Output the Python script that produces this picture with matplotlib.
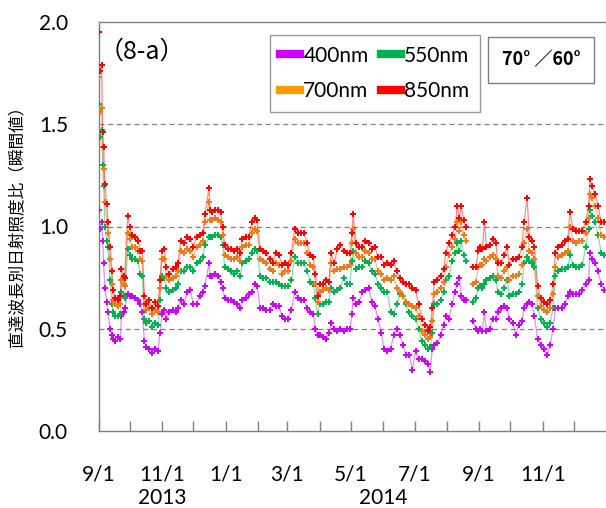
import numpy as np
import pandas as pd
import matplotlib
matplotlib.use('Agg')
import matplotlib.pyplot as plt
import matplotlib.dates as mdates
from matplotlib.lines import Line2D
from matplotlib.ticker import FuncFormatter

start = pd.Timestamp('2013-09-01')
day_offsets = [
    0, 1, 3, 4, 5, 6, 8, 9, 11, 13,
    14, 16, 19, 21, 22, 24, 25, 28, 30, 32,
    35, 38, 40, 42, 44, 46, 48, 51, 54, 57,
    59, 61, 63, 65, 68, 71, 74, 76, 79, 82,
    85, 88, 91, 94, 97, 100, 102, 106, 107, 109,
    112, 115, 117, 119, 121, 124, 127, 130, 133, 136,
    138, 141, 144, 147, 150, 152, 155, 158, 161, 164,
    167, 170, 173, 176, 179, 182, 185, 188, 191, 194,
    197, 200, 203, 206, 208, 210, 212, 215, 218, 221,
    223, 226, 229, 232, 235, 238, 241, 243, 244, 247,
    250, 253, 256, 259, 262, 265, 268, 271, 274, 277,
    280, 283, 286, 289, 292, 295, 298, 301, 304, 307,
    310, 313, 316, 318, 320, 322, 325, 328, 331, 333,
    336, 339, 342, 344, 346, 348, 350, 352, 355, 359,
    362, 364, 366, 368, 370, 372, 375, 378, 381, 383,
    386, 389, 392, 394, 397, 400, 403, 406, 408, 411,
    413, 416, 418, 421, 424, 427, 430, 433, 436, 438,
    441, 444, 447, 450, 452, 455, 458, 461, 464, 467,
    470, 471, 473, 476, 479, 482, 485,
]
nan = np.nan
nm850 = [
    1.95, 1.76, 1.79, 1.46, 1.39, 1.21, 1.11, 1.02, 0.90, 0.78,
    0.69, 0.65, 0.64, 0.66, 0.79, 0.76, 0.75, 1.05, 1.00, 0.96,
    0.95, 0.93, 0.88, 0.88, 0.66, 0.62, 0.64, 0.60, 0.63, 0.61,
    0.74, 0.88, 0.89, 0.80, 0.77, 0.79, 0.80, 0.82, 0.93, 0.92,
    0.95, 0.94, 0.90, 0.95, 0.96, 0.97, 1.06, 1.19, 1.08, 1.07,
    1.08, 1.08, 1.07, 1.00, 0.91, 0.89, 0.89, 0.88, 0.89, 0.87,
    0.94, 0.95, 0.95, 1.02, 1.04, 1.03, 0.89, 0.88, 0.87, 0.84,
    0.82, 0.87, 0.86, 0.81, 0.82, 0.81, 0.87, 0.99, 0.97, 0.97,
    0.97, 0.92, 0.86, 0.85, 0.77, 0.66, 0.72, 0.72, 0.74, 0.73,
    0.87, 0.82, 0.89, 0.91, 0.88, 0.87, 0.87, 0.97, 1.06, 0.92,
    0.90, 0.90, 0.93, 0.92, 0.89, 0.90, 0.85, 0.85, 0.81, 0.82,
    0.81, 0.83, 0.78, 0.75, 0.73, 0.72, 0.72, 0.70, 0.69, 0.62,
    0.55, 0.52, 0.49, 0.51, 0.60, 0.73, 0.74, 0.76, 0.79, 0.87,
    0.92, 0.96, 1.00, 1.10, 1.04, 1.10, 1.03, 1.00, nan, 0.80,
    0.80, 0.88, 0.90, 0.89, 1.02, 0.90, 0.91, 0.94, 0.92, 0.82,
    0.82, 0.86, 0.90, 0.81, 0.84, 0.84, 0.85, 0.90, 1.02, 1.14,
    0.95, 0.93, 0.90, 0.71, 0.65, 0.63, 0.62, 0.64, 0.72, 0.87,
    0.90, 0.91, 0.93, 0.94, 1.07, 0.99, 0.98, 0.98, 0.98, 1.02,
    1.10, 1.23, 1.20, 1.16, 1.10, 1.02, 1.02,
]
nm700 = [
    1.73, 1.56, 1.58, 1.39, 1.28, 1.12, 1.02, 0.97, 0.84, 0.72,
    0.64, 0.62, 0.61, 0.62, 0.74, 0.72, 0.71, 0.97, 0.94, 0.90,
    0.90, 0.88, 0.84, 0.83, 0.62, 0.59, 0.60, 0.57, 0.59, 0.58,
    0.70, 0.84, 0.84, 0.76, 0.74, 0.75, 0.76, 0.78, 0.88, 0.87,
    0.89, 0.88, 0.85, 0.90, 0.91, 0.93, 1.02, 1.12, 1.03, 1.03,
    1.04, 1.03, 1.02, 0.96, 0.86, 0.85, 0.84, 0.84, 0.85, 0.83,
    0.90, 0.91, 0.91, 0.97, 0.99, 0.98, 0.84, 0.83, 0.82, 0.79,
    0.78, 0.82, 0.81, 0.77, 0.78, 0.78, 0.83, 0.94, 0.92, 0.92,
    0.92, 0.87, 0.81, 0.80, 0.72, 0.63, 0.68, 0.69, 0.70, 0.69,
    0.82, 0.78, 0.79, 0.79, 0.80, 0.80, 0.81, 0.92, 0.99, 0.87,
    0.85, 0.85, 0.88, 0.87, 0.84, 0.84, 0.78, 0.77, 0.74, 0.75,
    0.74, 0.76, 0.70, 0.68, 0.66, 0.63, 0.62, 0.61, 0.60, 0.56,
    0.49, 0.47, 0.45, 0.46, 0.54, 0.67, 0.68, 0.70, 0.73, 0.80,
    0.86, 0.90, 0.94, 1.02, 0.98, 1.02, 0.96, 0.93, nan, 0.72,
    0.73, 0.80, 0.81, 0.81, 0.84, 0.83, 0.85, 0.86, 0.84, 0.76,
    0.75, 0.78, 0.80, 0.74, 0.76, 0.76, 0.77, 0.81, 0.92, 0.99,
    0.88, 0.87, 0.84, 0.66, 0.61, 0.59, 0.58, 0.60, 0.67, 0.80,
    0.85, 0.86, 0.87, 0.88, 1.00, 0.93, 0.92, 0.93, 0.93, 0.97,
    1.04, 1.16, 1.14, 1.10, 1.04, 0.96, 0.95,
]
nm550 = [
    1.60, 1.44, 1.47, 1.30, 1.20, 1.00, 0.93, 0.90, 0.74, 0.62,
    0.58, 0.56, 0.56, 0.57, 0.68, 0.66, 0.65, 0.89, 0.86, 0.84,
    0.84, 0.83, 0.77, 0.76, 0.55, 0.53, 0.54, 0.51, 0.53, 0.52,
    0.64, 0.76, 0.75, 0.70, 0.68, 0.69, 0.70, 0.72, 0.78, 0.78,
    0.80, 0.80, 0.78, 0.82, 0.83, 0.85, 0.91, 0.95, 0.95, 0.95,
    0.96, 0.96, 0.95, 0.91, 0.80, 0.79, 0.78, 0.77, 0.78, 0.76,
    0.82, 0.83, 0.84, 0.87, 0.89, 0.88, 0.76, 0.75, 0.75, 0.73,
    0.73, 0.73, 0.72, 0.71, 0.71, 0.71, 0.74, 0.85, 0.82, 0.82,
    0.82, 0.78, 0.73, 0.72, 0.65, 0.57, 0.62, 0.62, 0.63, 0.63,
    0.70, 0.68, 0.69, 0.70, 0.75, 0.72, 0.72, 0.83, 0.88, 0.79,
    0.80, 0.80, 0.83, 0.82, 0.78, 0.77, 0.72, 0.70, 0.68, 0.68,
    0.58, 0.57, 0.62, 0.67, 0.66, 0.62, 0.58, 0.56, 0.55, 0.50,
    0.44, 0.42, 0.40, 0.41, 0.48, 0.62, 0.62, 0.64, 0.68, 0.74,
    0.76, 0.83, 0.87, 0.92, 0.88, 0.93, 0.86, 0.83, nan, 0.63,
    0.65, 0.70, 0.71, 0.70, 0.72, 0.74, 0.75, 0.76, 0.74, 0.68,
    0.67, 0.70, 0.74, 0.66, 0.67, 0.67, 0.68, 0.72, 0.82, 0.85,
    0.83, 0.82, 0.80, 0.60, 0.55, 0.53, 0.51, 0.53, 0.60, 0.76,
    0.78, 0.79, 0.79, 0.80, 0.86, 0.81, 0.80, 0.80, 0.81, 0.90,
    0.99, 1.08, 1.05, 1.02, 0.96, 0.87, 0.86,
]
nm400 = [
    1.08, 0.99, 1.02, 0.93, 0.82, 0.70, 0.63, 0.58, 0.50, 0.47,
    0.45, 0.44, 0.46, 0.45, 0.56, 0.58, 0.60, 0.67, 0.66, 0.66,
    0.65, 0.64, 0.62, 0.58, 0.44, 0.41, 0.40, 0.38, 0.40, 0.39,
    0.48, 0.57, 0.59, 0.55, 0.58, 0.59, 0.58, 0.60, 0.64, 0.62,
    0.68, 0.69, 0.62, 0.62, 0.66, 0.68, 0.71, 0.82, 0.76, 0.76,
    0.77, 0.76, 0.73, 0.70, 0.65, 0.64, 0.64, 0.63, 0.62, 0.60,
    0.64, 0.65, 0.67, 0.68, 0.72, 0.71, 0.60, 0.60, 0.59, 0.59,
    0.62, 0.61, 0.61, 0.56, 0.55, 0.55, 0.59, 0.68, 0.65, 0.64,
    0.64, 0.60, 0.58, 0.57, 0.50, 0.47, 0.47, 0.46, 0.45, 0.48,
    0.53, 0.50, 0.49, 0.50, 0.49, 0.50, 0.50, 0.57, 0.65, 0.62,
    0.63, 0.68, 0.69, 0.70, 0.63, 0.61, 0.55, 0.48, 0.40, 0.39,
    0.40, 0.47, 0.50, 0.47, 0.42, 0.37, 0.37, 0.30, 0.39, 0.35,
    0.35, 0.34, 0.33, 0.29, 0.40, 0.42, 0.43, 0.47, 0.52, 0.56,
    0.55, 0.62, 0.68, 0.72, 0.75, 0.66, 0.64, 0.64, nan, 0.54,
    0.50, 0.49, 0.50, 0.49, 0.58, 0.49, 0.50, 0.55, 0.55, 0.58,
    0.60, 0.61, 0.60, 0.55, 0.53, 0.47, 0.52, 0.54, 0.60, 0.62,
    0.63, 0.62, 0.56, 0.45, 0.42, 0.40, 0.37, 0.42, 0.50, 0.60,
    0.60, 0.60, 0.62, 0.66, 0.68, 0.67, 0.67, 0.67, 0.69, 0.72,
    0.74, 0.87, 0.84, 0.82, 0.78, 0.72, 0.69,
]
series_labels = ['400nm', '550nm', '700nm', '850nm']
y_label = '直達波長別日射照度比（瞬間値）'
panel_label = '（8-a）'
angle_label = '70° ／60°'

num_font = 'Lato'
cjk = ['Noto Sans CJK JP', 'DejaVu Sans']

dates = start + pd.to_timedelta(day_offsets, unit='D')
series = [nm400, nm550, nm700, nm850]
line_colors = ['#CC00FF', '#00B050', '#EE7A1A', '#FF0000']
legend_colors = ['#CC00FF', '#00B050', '#FF9900', '#FF0000']

fig = plt.figure(figsize=(6.06, 5.08), dpi=100)
ax = fig.add_axes([98.5 / 606, 1 - 431 / 508, 1 - 98.5 / 606, (431 - 22) / 508])

for vals, c in zip(series, line_colors):
    ax.plot(dates, vals, color=c, lw=0.9, alpha=0.45, zorder=2)
    ax.plot(dates, vals, linestyle='none', marker='P', markersize=3.8,
            color=c, markeredgewidth=0, zorder=3)

ax.set_ylim(0, 2.0)
ax.set_xlim(start, start + pd.Timedelta(days=486.6))
ax.set_yticks([0, 0.5, 1.0, 1.5, 2.0])
ax.yaxis.set_major_formatter(FuncFormatter(lambda v, p: f'{v:.1f}'))
for yv in [0.5, 1.0, 1.5]:
    ax.axhline(yv, color='#808080', lw=0.9, ls=(0, (4, 3)), zorder=1)

ax.xaxis.set_major_locator(mdates.MonthLocator(bymonth=[1, 3, 5, 7, 9, 11]))
ax.xaxis.set_minor_locator(mdates.MonthLocator())
ax.xaxis.set_major_formatter(FuncFormatter(
    lambda v, p: f'{mdates.num2date(v).month}/{mdates.num2date(v).day}'))
ax.tick_params(axis='x', which='both', direction='in', length=7, width=1,
               color='#808080', pad=24)
ax.tick_params(axis='y', length=0, pad=22)
for lab in ax.get_xticklabels() + ax.get_yticklabels():
    lab.set_fontfamily(num_font)
    lab.set_fontsize(15)

for s in ['left', 'bottom', 'top']:
    ax.spines[s].set_color('#808080')
    ax.spines[s].set_linewidth(1)
ax.spines['right'].set_visible(False)

trans = ax.get_xaxis_transform()
ax.text(pd.Timestamp('2013-11-01'), -0.165, '2013', transform=trans,
        ha='center', va='center', fontsize=15, fontfamily=num_font)
ax.text(pd.Timestamp('2014-06-01'), -0.165, '2014', transform=trans,
        ha='center', va='center', fontsize=15, fontfamily=num_font)

fig.text(0.03, 1 - 222 / 508, y_label, rotation=90, ha='center', va='center',
         fontsize=12, fontfamily=cjk)

ax.text(0.0, 0.928, panel_label, transform=ax.transAxes, ha='left', va='center',
        fontsize=18, fontfamily=cjk)

order = [0, 2, 1, 3]
handles = [Line2D([0], [0], color=legend_colors[i], lw=6) for i in order]
labels = [series_labels[i] for i in order]
leg = ax.legend(handles, labels, ncol=2, loc='upper left',
                bbox_to_anchor=(0.338, 0.968), frameon=True, fancybox=False,
                prop={'family': num_font, 'size': 15}, handlelength=0.95,
                handletextpad=0.15, columnspacing=0.6, labelspacing=0.75,
                borderpad=0.5, borderaxespad=0)
leg.get_frame().set_edgecolor('#808080')
leg.get_frame().set_linewidth(1)

ax.text(0.872, 0.908, angle_label, transform=ax.transAxes, ha='center', va='center',
        fontsize=13, fontweight='bold', fontfamily=cjk,
        bbox=dict(boxstyle='square,pad=0.75', fc='white', ec='#808080', lw=1))

fig.savefig('out.png', dpi=100)
